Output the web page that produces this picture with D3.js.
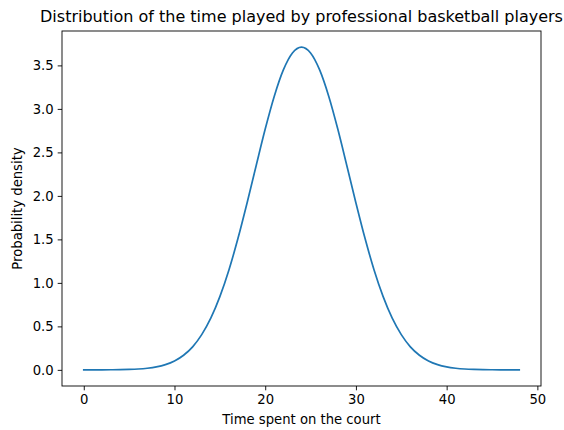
<!DOCTYPE html>
<html><head><meta charset="utf-8">
<script src="https://cdn.jsdelivr.net/npm/d3@7"></script>
<style>body{margin:0;background:#fff}svg{display:block}text{font-family:"DejaVu Sans",sans-serif;fill:#000}</style>
</head><body>
<script>
const title = "Distribution of the time played by professional basketball players";
const xLabel = "Time spent on the court";
const yLabel = "Probability density";
const minutes = [0,1,2,3,4,5,6,7,8,9,10,11,12,13,14,15,16,17,18,19,20,21,22,23,24,25,26,27,28,29,30,31,32,33,34,35,36,37,38,39,40,41,42,43,44,45,46,47,48];
const density = [0.0001,0.0002,0.0005,0.0012,0.0024,0.005,0.0098,0.019,0.034,0.060,0.102,0.168,0.265,0.405,0.594,0.842,1.149,1.512,1.919,2.347,2.768,3.146,3.448,3.643,3.710,3.643,3.448,3.146,2.768,2.347,1.919,1.512,1.149,0.842,0.594,0.405,0.265,0.168,0.102,0.060,0.034,0.019,0.0098,0.005,0.0024,0.0012,0.0005,0.0002,0.0001];
const xTicks = [0,10,20,30,40,50];
const yTicks = [0.0,0.5,1.0,1.5,2.0,2.5,3.0,3.5];

const W = 564, H = 430;
const m = {left:62, right:23, top:31, bottom:44};
const svg = d3.select("body").append("svg").attr("width",W).attr("height",H);
const iw = W-m.left-m.right, ih = H-m.top-m.bottom;
const xmin = d3.min(minutes), xmax = d3.max(minutes), ymin = d3.min(density), ymax = d3.max(density);
const xm = (xmax-xmin)*0.05, ym = (ymax-ymin)*0.05;
const x = d3.scaleLinear().domain([xmin-xm, xmax+xm]).range([m.left, m.left+iw]);
const y = d3.scaleLinear().domain([ymin-ym, ymax+ym]).range([m.top+ih, m.top]);
const fs = 13.2;

const xa = svg.append("g").attr("transform",`translate(0,${m.top+ih})`)
  .call(d3.axisBottom(x).tickValues(xTicks).tickFormat(d3.format("d")).tickSize(4.3).tickPadding(4));
const ya = svg.append("g").attr("transform",`translate(${m.left},0)`)
  .call(d3.axisLeft(y).tickValues(yTicks).tickFormat(d3.format(".1f")).tickSize(4.3).tickPadding(4));
[xa,ya].forEach(a=>{a.select(".domain").remove();a.selectAll("text").style("font-size",fs+"px").attr("fill","#000");a.selectAll("line").attr("stroke","#000").attr("stroke-width",0.9);});

svg.append("path").datum(minutes.map((d,i)=>[d,density[i]]))
  .attr("fill","none").attr("stroke","#1f77b4").attr("stroke-width",1.7)
  .attr("stroke-linejoin","round").attr("stroke-linecap","square")
  .attr("d", d3.line().x(d=>x(d[0])).y(d=>y(d[1])).curve(d3.curveMonotoneX));

svg.append("rect").attr("x",m.left).attr("y",m.top).attr("width",iw).attr("height",ih)
  .attr("fill","none").attr("stroke","#000").attr("stroke-width",0.9);

svg.append("text").attr("x",m.left+iw/2).attr("y",m.top-9).attr("text-anchor","middle").style("font-size","16px").text(title);
svg.append("text").attr("x",m.left+iw/2).attr("y",H-6).attr("text-anchor","middle").style("font-size",fs+"px").text(xLabel);
svg.append("text").attr("transform",`translate(22,${m.top+ih/2}) rotate(-90)`).attr("text-anchor","middle").style("font-size",fs+"px").text(yLabel);
</script>
</body></html>
